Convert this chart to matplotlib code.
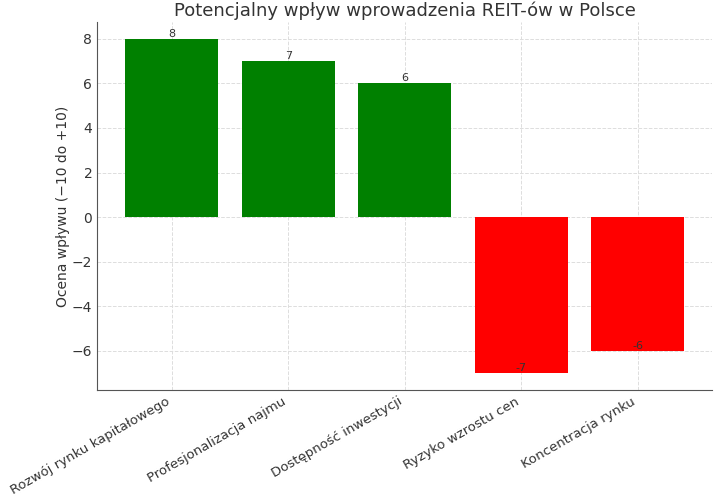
import matplotlib
matplotlib.use("Agg")
import matplotlib.pyplot as plt

categories = ["Rozwój rynku kapitałowego", "Profesjonalizacja najmu", "Dostępność inwestycji",
              "Ryzyko wzrostu cen", "Koncentracja rynku"]
values = [8, 7, 6, -7, -6]
colors = ["green", "green", "green", "red", "red"]

plt.rcParams['font.family'] = ['DejaVu Sans']
fig = plt.figure(figsize=(7.2, 5), dpi=100)
ax = fig.add_axes([0.135, 0.22, 0.854, 0.736])

bars = ax.bar(categories, values, color=colors, width=0.8, zorder=2)
for b, v in zip(bars, values):
    ax.text(b.get_x() + b.get_width() / 2, v, str(v), ha='center', va='bottom',
            fontsize=8, color='#333333', zorder=3)

ax.set_title("Potencjalny wpływ wprowadzenia REIT-ów w Polsce", fontsize=13, color='#333333', pad=4)
ax.set_ylabel("Ocena wpływu (−10 do +10)", fontsize=10, color='#333333', labelpad=1)
ax.grid(True, linestyle='--', color='#dddddd', linewidth=0.7, zorder=0)
ax.set_axisbelow(True)
for s in ['top', 'right']:
    ax.spines[s].set_visible(False)
for s in ['left', 'bottom']:
    ax.spines[s].set_color('#555555')
ax.tick_params(colors='#333333', labelsize=10, length=0, pad=3.5)
ax.tick_params(axis='x', labelsize=9.5)
plt.setp(ax.get_xticklabels(), rotation=30, ha='right')

fig.savefig("out.png", dpi=100)
